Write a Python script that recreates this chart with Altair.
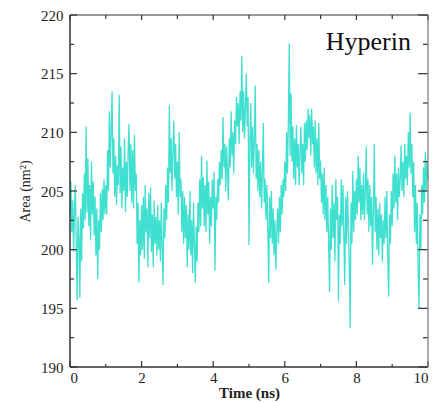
import altair as alt
import pandas as pd

time_step = 0.025
area = [
    203.0, 205.8, 201.5, 204.2, 199.8, 203.6, 205.5, 200.2, 195.7, 202.8,
    201.0, 195.9, 203.5, 199.0, 204.8, 201.8, 206.5, 202.5, 210.5, 203.2,
    207.8, 202.0, 205.5, 200.8, 207.5, 203.0, 205.8, 201.2, 204.5, 199.5,
    203.5, 197.5, 202.5, 200.0, 204.8, 201.5, 205.2, 202.5, 206.0, 203.0,
    205.5, 203.0, 208.5, 205.0, 211.8, 207.0, 210.2, 213.5, 206.5, 209.5,
    204.5, 208.0, 203.8, 207.2, 205.5, 213.2, 204.8, 208.8, 203.5, 207.0,
    205.0, 209.5, 203.2, 207.5, 204.5, 208.5, 210.7, 205.0, 209.0, 204.0,
    208.5, 203.5, 209.8, 205.0, 206.5, 200.5, 204.0, 197.2, 202.5, 199.5,
    203.8, 200.0, 204.5, 199.2, 205.5, 201.5, 203.5, 198.5, 204.8, 201.0,
    205.3, 199.8, 203.0, 198.5, 204.2, 200.5, 202.8, 199.5, 203.8, 200.0,
    202.5, 199.0, 204.0, 200.2, 197.0, 203.5, 201.0, 205.5, 202.5, 207.0,
    204.0, 212.3, 206.5, 209.5, 205.0, 208.5, 211.0, 206.0, 209.0, 204.5,
    207.5, 203.0, 210.0, 204.5, 206.0, 201.5, 205.0, 200.5, 204.5, 201.0,
    203.8, 198.5, 203.0, 200.0, 205.0, 199.5, 202.5, 198.0, 204.0, 200.5,
    197.2, 202.0, 199.0, 204.0, 201.5, 206.0, 202.0, 208.0, 203.5, 206.2,
    202.0, 205.5, 201.5, 207.6, 203.0, 205.8, 200.5, 204.5, 202.0, 206.0,
    203.5, 206.6, 198.2, 204.5, 202.5, 206.0, 204.0, 207.5, 205.5, 208.5,
    206.0, 211.3, 207.0, 209.0, 205.0, 208.8, 206.5, 204.2, 209.5, 207.0,
    211.8, 208.0, 210.0, 206.5, 211.0, 209.0, 213.0, 210.5, 212.5, 209.0,
    213.5, 211.0, 216.5, 210.0, 213.5, 209.5, 212.0, 215.0, 210.5, 213.0,
    200.4, 209.0, 212.5, 207.0, 210.5, 206.5, 209.5, 214.0, 206.0, 209.0,
    205.0, 208.5, 204.5, 207.5, 203.5, 206.5, 210.8, 204.0, 206.0, 202.5,
    205.5, 202.0, 197.2, 204.5, 201.0, 205.0, 200.5, 203.5, 199.5, 202.5,
    198.3, 201.5, 203.5, 200.5, 204.5, 201.5, 205.5, 203.0, 206.0, 204.5,
    207.5, 205.0, 210.0, 206.5, 211.0, 217.6, 208.0, 213.3, 207.5, 210.5,
    206.0, 209.5, 205.5, 210.6, 207.0, 209.0, 205.5, 208.5, 210.5, 206.5,
    209.0, 205.5, 210.8, 207.5, 211.0, 208.5, 212.0, 209.5, 211.5, 208.0,
    212.0, 209.0, 210.5, 207.0, 211.0, 206.5, 209.5, 205.5, 210.8, 206.0,
    207.6, 204.0, 206.5, 203.0, 207.0, 202.5, 205.5, 201.5, 204.5, 200.5,
    196.4, 203.5, 200.0, 205.5, 201.0, 204.0, 199.0, 206.0, 202.5, 204.5,
    195.6, 203.0, 200.5, 206.0, 202.0, 205.5, 201.0, 197.0, 204.5, 200.5,
    205.0, 202.0, 199.0, 193.3, 204.0, 200.5, 206.7, 201.5, 205.0, 202.5,
    206.0, 203.0, 208.0, 204.0, 207.0, 202.5, 205.5, 203.0, 206.5, 202.5,
    205.0, 208.8, 203.0, 206.0, 201.5, 205.5, 202.0, 204.5, 198.7, 203.5,
    209.0, 201.5, 204.5, 200.0, 203.5, 199.5, 204.0, 201.0, 203.0, 199.0,
    202.5, 200.5, 204.5, 201.0, 205.0, 199.5, 196.0, 203.0, 200.5, 205.0,
    202.0, 206.5, 203.5, 208.0, 204.0, 206.5, 202.5, 207.0, 204.5, 206.0,
    208.9, 205.0, 207.5, 204.5, 209.0, 206.0, 208.0, 205.5, 210.0, 207.0,
    211.7, 206.5, 209.0, 204.5, 207.5, 201.5, 205.5, 200.5, 204.0, 198.3,
    195.0, 203.0, 200.0, 205.5, 203.0, 207.0, 204.0, 208.3, 205.0, 207.5,
    206.0,
]
time = [round(i * time_step, 3) for i in range(len(area))]

x_major = [0, 2, 4, 6, 8, 10]
x_minor = [1, 3, 5, 7, 9]
y_major = [190, 195, 200, 205, 210, 215, 220]
y_minor = [192.5, 197.5, 202.5, 207.5, 212.5, 217.5]

W, H = 358, 352
FONT = "Liberation Serif"
AXC = "#333333"
AXC2 = "#777777"

xs = alt.Scale(domain=[0, 10], nice=False, zero=False)
ys = alt.Scale(domain=[190, 220], nice=False, zero=False)

x_axis = alt.Axis(
    title="Time (ns)", values=x_major, format="d", tickSize=0, domain=False, grid=False,
    labelFont=FONT, labelFontSize=15, labelColor="#222", labelPadding=3,
    titleFont=FONT, titleFontSize=15, titleFontWeight="bold", titleColor="#222", titlePadding=0)
y_axis = alt.Axis(
    title="Area (nm²)", values=y_major, format="d", tickSize=0, domain=False, grid=False,
    labelFont=FONT, labelFontSize=15, labelColor="#222", labelPadding=7,
    titleFont=FONT, titleFontSize=14, titleFontWeight="normal", titleColor="#222", titlePadding=8)

df = pd.DataFrame({"t": time, "a": area})

line = alt.Chart(df).mark_line(color="#40E0D0", strokeWidth=1.3).encode(
    x=alt.X("t:Q", scale=xs, axis=x_axis),
    y=alt.Y("a:Q", scale=ys, axis=y_axis),
)

def xticks(vals, lb, lt):
    d = pd.DataFrame({"t": vals})
    b = alt.Chart(d).mark_rule(color=AXC, strokeWidth=1.2).encode(
        x=alt.X("t:Q", scale=xs, axis=x_axis), y=alt.value(H), y2=alt.value(H - lb))
    t = alt.Chart(d).mark_rule(color=AXC, strokeWidth=1.2).encode(
        x=alt.X("t:Q", scale=xs, axis=x_axis), y=alt.value(0), y2=alt.value(lt))
    return [b, t]

def yticks(vals, ll, lr):
    d = pd.DataFrame({"a": vals})
    l = alt.Chart(d).mark_rule(color=AXC, strokeWidth=1.2).encode(
        y=alt.Y("a:Q", scale=ys, axis=y_axis), x=alt.value(0), x2=alt.value(ll))
    r = alt.Chart(d).mark_rule(color=AXC, strokeWidth=1.2).encode(
        y=alt.Y("a:Q", scale=ys, axis=y_axis), x=alt.value(W), x2=alt.value(W - lr))
    return [l, r]

frame_l = alt.Chart(pd.DataFrame({"k": [0]})).mark_rule(color=AXC, strokeWidth=1.5).encode(
    x=alt.value(0), y=alt.value(0), y2=alt.value(H))
frame_b = alt.Chart(pd.DataFrame({"k": [0]})).mark_rule(color=AXC, strokeWidth=1.5).encode(
    x=alt.value(0), x2=alt.value(W), y=alt.value(H))
frame_t = alt.Chart(pd.DataFrame({"k": [0]})).mark_rule(color=AXC, strokeWidth=1.2).encode(
    x=alt.value(0), x2=alt.value(W), y=alt.value(0))
frame_r = alt.Chart(pd.DataFrame({"k": [0]})).mark_rule(color=AXC2, strokeWidth=1.2).encode(
    x=alt.value(W), y=alt.value(0), y2=alt.value(H))

label = alt.Chart(pd.DataFrame({"s": ["Hyperin"]})).mark_text(
    font=FONT, fontSize=26, color="#111", align="right", baseline="alphabetic"
).encode(text="s:N", x=alt.value(341), y=alt.value(35))

layers = ([line] + xticks(x_major, 6, 5) + xticks(x_minor, 3, 4)
          + yticks(y_major, 7, 10) + yticks(y_minor, 4, 5)
          + [frame_l, frame_b, frame_t, frame_r, label])

chart = alt.layer(*layers).properties(
    width=W, height=H,
    autosize=alt.AutoSizeParams(type="none"),
    padding={"left": 62, "top": 7, "right": 5, "bottom": 34},
).configure(
    font=FONT,
    view=alt.ViewConfig(stroke=None),
    axis=alt.AxisConfig(labelFont=FONT, titleFont=FONT),
    style={"guide-label": {"font": FONT}, "guide-title": {"font": FONT}},
)

chart.save("out.html", embed_options={"renderer": "svg", "actions": False})
